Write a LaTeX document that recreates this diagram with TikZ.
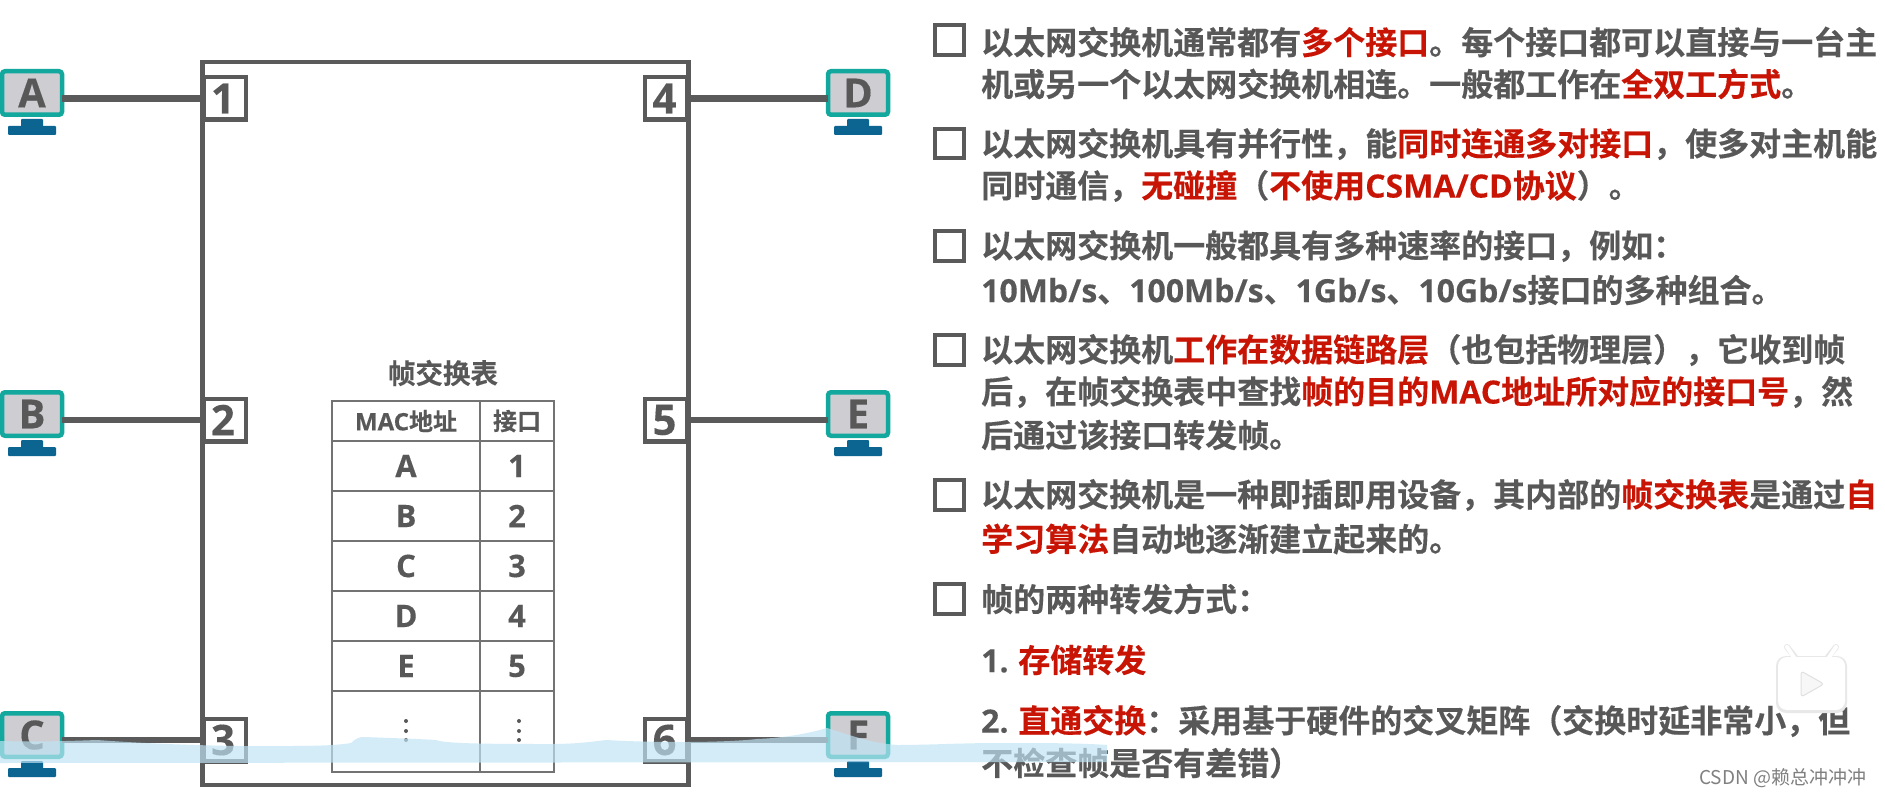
\documentclass[tikz,border=0pt]{standalone}
\usepackage{fontspec}
\setmainfont{Noto Sans CJK SC}[BoldFont={Noto Sans CJK SC Bold},BoldFeatures={FakeBold=0.35}]
\newfontfamily\latf{Open Sans}[BoldFeatures={FakeBold=0.3}]
\definecolor{inkgray}{HTML}{585858}
\definecolor{boxgray}{HTML}{5A5A5A}
\definecolor{hired}{HTML}{C81405}
\definecolor{screenteal}{HTML}{12A89D}
\definecolor{screenfill}{HTML}{CDCDD2}
\definecolor{standblue}{HTML}{0B6590}
\definecolor{rippleblue}{HTML}{BFE4F5}
\newcommand{\hi}[1]{\textcolor{hired}{#1}}
\newcommand{\lt}[1]{{\latf\bfseries #1}}
\tikzset{
  x=1pt,y=-1pt,
  body/.style={anchor=west,inner sep=0pt,text=inkgray,font=\fontsize{32}{32}\selectfont\bfseries},
  tickbox/.style={draw=boxgray,line width=4pt,minimum size=29.5pt,inner sep=0pt,outer sep=0pt,anchor=center},
  portbox/.style={draw=boxgray,line width=4.5pt,fill=white,minimum width=42.5pt,minimum height=42.5pt,inner sep=0pt,outer sep=0pt,text=inkgray,font=\fontsize{42}{42}\selectfont\latf\bfseries},
  screen/.style={draw=screenteal,fill=screenfill,line width=4.5pt,rounded corners=3pt,minimum width=60pt,minimum height=43.5pt,inner sep=0pt,outer sep=0pt,text=inkgray,font=\fontsize{40}{40}\selectfont\latf\bfseries},
  wire/.style={draw=boxgray,line width=6.5pt},
  cellhead/.style={inner sep=0pt,text=inkgray,font=\fontsize{24}{24}\selectfont\bfseries},
  cell/.style={inner sep=0pt,text=inkgray,font=\fontsize{31}{31}\selectfont\latf\bfseries},
  grid/.style={draw=boxgray!85,line width=1.8pt},
}
\newcommand{\host}[4]{% name, letter, x, y of the screen centre
  \node[screen] (#1) at (#3,#4) {#2};
  \fill[standblue,rounded corners=1pt] (#3-11,#4+26) rectangle (#3+11,#4+34);
  \fill[standblue,rounded corners=1pt] (#3-24,#4+33) rectangle (#3+24,#4+42);
}
\begin{document}
\begin{tikzpicture}
\useasboundingbox (0,0) rectangle (1885,797);
\fill[white] (0,0) rectangle (1885,797);

% switch enclosure
\node[draw=boxgray,line width=4.5pt,minimum width=486pt,minimum height=723pt,inner sep=0pt,outer sep=0pt] (switch) at (445.5,423.5) {};

% ports
\node[portbox] (p1) at (224.5,98.5) {\hspace*{-3pt}1};
\node[portbox] (p2) at (224.5,420) {\hspace*{-3pt}2};
\node[portbox] (p3) at (224.5,740) {\hspace*{-3pt}3};
\node[portbox] (p4) at (666,98.5) {\hspace*{-3pt}4};
\node[portbox] (p5) at (666,420) {\hspace*{-3pt}5};
\node[portbox] (p6) at (666,740) {\hspace*{-3pt}6};

% hosts
\host{hA}{A}{32}{93}
\host{hB}{B}{32}{414}
\host{hC}{C}{32}{735}
\host{hD}{D}{858}{93}
\host{hE}{E}{858}{414}
\host{hF}{F}{858}{735}

% links
\draw[wire] (hA.east |- p1.west) -- (p1.west);
\draw[wire] (hB.east |- p2.west) -- (p2.west);
\draw[wire] (hC.east |- p3.west) -- (p3.west);
\draw[wire] (p4.east) -- (hD.west |- p4.east);
\draw[wire] (p5.east) -- (hE.west |- p5.east);
\draw[wire] (p6.east) -- (hF.west |- p6.east);

% forwarding table
\node[inner sep=0pt,text=inkgray,font=\fontsize{27.5}{27.5}\selectfont\bfseries] (ttl) at (443,373) {帧交换表};
\draw[grid] (332,401) rectangle (554,772);
\draw[grid] (480,401) -- (480,772);
\foreach \yy in {441,491,541,591,641,691} \draw[grid] (332,\yy) -- (554,\yy);
\node[cellhead] (h1) at (406,421) {\lt{MAC}地址};
\node[cellhead] (h2) at (517,421) {接口};
\foreach \nm/\a/\b/\yy in {r1/A/1/466,r2/B/2/516,r3/C/3/566,r4/D/4/616,r5/E/5/666}{
  \node[cell] (\nm a) at (406,\yy) {\a};
  \node[cell] (\nm b) at (517,\yy) {\b};
}
\foreach \xx in {406,519}{
  \foreach \yy in {721,731,740} \fill[inkgray] (\xx,\yy) circle (2pt);
}

% notes on the right
\foreach \yy in {40,143.5,246,350,495,599} \node[tickbox] at (949.5,\yy) {};
\node[body] (l1) at (981,42) {以太网交换机通常都有\hi{多个接口}。每个接口都可以直接与一台主};
\node[body] (l2) at (981,84) {机或另一个以太网交换机相连。一般都工作在\hi{全双工方式}。};
\node[body] (l3) at (981,144) {以太网交换机具有并行性，能\hi{同时连通多对接口}，使多对主机能};
\node[body] (l4) at (981,186) {同时通信，\hi{无碰撞}（\hi{不使用\lt{CSMA/CD}协议}）。};
\node[body] (l5) at (981,246) {以太网交换机一般都具有多种速率的接口，例如：};
\node[body] (l6) at (981,290) {\lt{10Mb/s}、\lt{100Mb/s}、\lt{1Gb/s}、\lt{10Gb/s}接口的多种组合。};
\node[body] (l7) at (981,350) {以太网交换机\hi{工作在数据链路层}（也包括物理层），它收到帧};
\node[body] (l8) at (981,392) {后，在帧交换表中查找\hi{帧的目的\lt{MAC}地址所对应的接口号}，然};
\node[body] (l9) at (981,435) {后通过该接口转发帧。};
\node[body] (l10) at (981,495) {以太网交换机是一种即插即用设备，其内部的\hi{帧交换表}是通过\hi{自}};
\node[body] (l11) at (981,539) {\hi{学习算法}自动地逐渐建立起来的。};
\node[body] (l12) at (981,599) {帧的两种转发方式：};
\node[body] (l13) at (981,660) {\lt{1.} \hi{存储转发}};
\node[body] (l14) at (981,721) {\lt{2.} \hi{直通交换}：采用基于硬件的交叉矩阵（交换时延非常小，但};
\node[body] (l15) at (981,763) {不检查帧是否有差错）};

% translucent ripple of water across the lower edge
\fill[rippleblue,opacity=.68] (0,741) .. controls (40,742) and (70,741) .. (97,740)
  .. controls (150,744) and (230,747) .. (290,746) .. controls (320,746) and (340,745) .. (351,743)
  .. controls (356,738) and (360,737) .. (364,737) .. controls (390,738) and (420,739) .. (436,740)
  .. controls (445,744) and (500,744) .. (551,744) .. controls (575,744) and (590,742) .. (606,740)
  .. controls (640,742) and (670,742) .. (685,742) .. controls (710,742) and (740,741) .. (757,739)
  .. controls (785,738) and (810,733) .. (827,728) .. controls (850,735) and (870,743) .. (897,745)
  .. controls (930,745) and (960,743) .. (1000,743) .. controls (1040,743) and (1080,743) .. (1107,745)
  -- (1107,762) -- (0,763) -- cycle;

% video badge and credit
\fill[black!9,rounded corners=10pt] (1776,656) rectangle (1847,713);
\draw[black!9,line width=6pt,line cap=round] (1795,657) -- (1787,647);
\draw[black!9,line width=6pt,line cap=round] (1828,657) -- (1836,647);
\fill[white,rounded corners=9pt] (1778,657) rectangle (1845,710);
\draw[white,line width=4pt,line cap=round] (1795,659) -- (1787,647);
\draw[white,line width=4pt,line cap=round] (1828,659) -- (1836,647);
\draw[black!12,fill=black!3,line width=1pt,rounded corners=3pt] (1801,671) -- (1824,684) -- (1801,697) -- cycle;
\node[inner sep=0pt,anchor=west,text=black!50,font=\fontsize{19}{19}\selectfont] (credit) at (1699,778) {CSDN @赖总冲冲冲};
\end{tikzpicture}
\end{document}
